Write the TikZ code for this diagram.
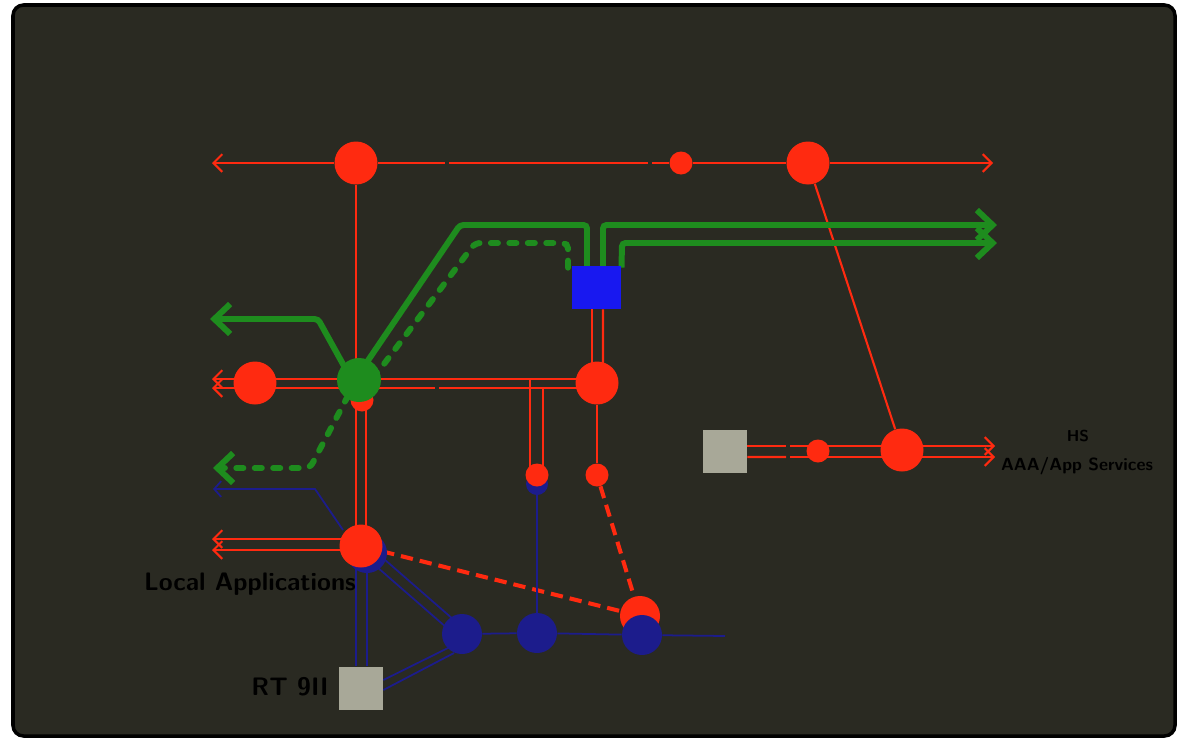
\documentclass[tikz,border=0pt]{standalone}
\usetikzlibrary{arrows.meta,calc}
\definecolor{bgc}{HTML}{2A2A22}
\definecolor{myred}{HTML}{FF2A10}
\definecolor{mygreen}{HTML}{1E8C1E}
\definecolor{myblue}{HTML}{1818F0}
\definecolor{navy}{HTML}{1C1C8C}
\definecolor{sqc}{HTML}{A8A898}
\pgfdeclarelayer{back}
\pgfdeclarelayer{lines}
\pgfsetlayers{back,lines,main}
\tikzset{
  bigred/.style={circle,fill=myred,inner sep=0pt,minimum size=0.86cm},
  smallred/.style={circle,fill=myred,inner sep=0pt,minimum size=0.46cm},
  greennode/.style={circle,fill=mygreen,inner sep=0pt,minimum size=0.88cm},
  bluecirc/.style={circle,fill=navy,inner sep=0pt,minimum size=0.8cm},
  smallblue/.style={circle,fill=navy,inner sep=0pt,minimum size=0.44cm},
  bluesq/.style={rectangle,fill=myblue,inner sep=0pt,minimum width=0.98cm,minimum height=0.86cm},
  graysq/.style={rectangle,fill=sqc,inner sep=0pt,minimum width=0.88cm,minimum height=0.86cm},
  redline/.style={draw=myred,line width=1.2pt},
  redtip/.style={-{Straight Barb[length=5pt,width=10pt,line width=1.2pt]}},
  reddash/.style={draw=myred,line width=2.3pt,dash pattern=on 7pt off 4pt},
  gline/.style={draw=mygreen,line width=3.4pt,rounded corners=2pt},
  gtip/.style={-{Straight Barb[length=9pt,width=17pt,line width=3.4pt]}},
  gdash/.style={draw=mygreen,line width=3.4pt,line cap=round,dash pattern=on 4pt off 6.5pt,rounded corners=3pt},
  blueline/.style={draw=navy,line width=1pt},
  bluetip/.style={-{Straight Barb[length=4pt,width=9pt,line width=1pt]}},
  lbl/.style={text=black,font=\bfseries\sffamily,inner sep=0pt}
}
\begin{document}
\begin{tikzpicture}[x=0.02cm,y=-0.02cm]
\useasboundingbox (0,0) rectangle (1180,741);
\begin{pgfonlayer}{back}
\fill[white] (0,0) rectangle (1180,741);
\draw[line width=2pt,fill=bgc,rounded corners=6pt] (13,5) rectangle (1175,736);
\end{pgfonlayer}

% ---- coordinates
\coordinate (tL) at (212,163);
\coordinate (tR) at (993,163);
\coordinate (gA1) at (445,163); \coordinate (gA2) at (449,163);
\coordinate (gB1) at (648,163); \coordinate (gB2) at (652,163);
\coordinate (mL1) at (212,379); \coordinate (mL2) at (212,388);
\coordinate (gC1) at (435,388); \coordinate (gC2) at (439,388);
\coordinate (bL1) at (212,539); \coordinate (bL2) at (212,550);
\coordinate (blL) at (213,489); \coordinate (blK) at (315,489);
\coordinate (blE) at (725,636);
\coordinate (rR1) at (995,446); \coordinate (rR2) at (995,457);
\coordinate (gD1) at (786,446); \coordinate (gD2) at (790,446);
\coordinate (gD3) at (786,457); \coordinate (gD4) at (790,457);
\coordinate (grA) at (210,319); \coordinate (grB) at (318,319);
\coordinate (grC) at (460,225); \coordinate (grD) at (587,225);
\coordinate (grE) at (603,225); \coordinate (grR1) at (997,225);
\coordinate (grF) at (622,243); \coordinate (grR2) at (997,243);
\coordinate (gdL) at (213,468); \coordinate (gdK) at (310,468);
\coordinate (gdU) at (475,243); \coordinate (gdV) at (568,243);

% ---- nodes
\node[bigred] (r1) at (356,163) {};
\node[smallred] (r2) at (681,163) {};
\node[bigred] (r3) at (808,163) {};
\node[bigred] (r4) at (255,383) {};
\node[smallred] (r5) at (362,400) {};
\node[greennode] (g1) at (359,380) {};
\node[bigred] (r6) at (597,383) {};
\node[bluesq] (b1) at (596.5,287.5) {};
\node[smallblue] (nb7) at (537,484) {};
\node[smallred] (r7) at (537,475) {};
\node[smallred] (r8) at (597,475) {};
\node[bluecirc] (nb9) at (367,553) {};
\node[bigred] (r9) at (361,546) {};
\node[bluecirc] (n1) at (462,634) {};
\node[bluecirc] (n2) at (537,633) {};
\node[bigred,minimum size=0.8cm] (r10) at (640,616) {};
\node[bluecirc] (n3) at (642,635) {};
\node[graysq] (sq1) at (361,688) {};
\node[graysq] (sq2) at (725,451.5) {};
\node[smallred] (r11) at (818,451) {};
\node[bigred] (r12) at (902,450) {};

% ---- labels
\node[lbl,font=\bfseries\sffamily\Large] (t1) at (250,584) {Local Applications};
\node[lbl,font=\bfseries\sffamily\Large] (t2) at (290,687) {RT 9II};
\node[lbl,font=\bfseries\sffamily\small] (t3) at (1078,436) {HS};
\node[lbl,font=\bfseries\sffamily\normalsize] (t4) at (1077,466) {AAA/App Services};

\begin{pgfonlayer}{lines}
% top red line
\draw[redline,redtip] (r1) -- (tL);
\draw[redline] (r1) -- (gA1);
\draw[redline] (gA2) -- (gB1);
\draw[redline] (gB2) -- (r2);
\draw[redline] (r2) -- (r3);
\draw[redline,redtip] (r3) -- (tR);
\draw[redline] (r1) -- ($(g1)+(-3,0)$);
\draw[redline] (r3) -- (r12);

% middle double red
\draw[redline,redtip] ($(r4)+(0,-4)$) -- (mL1);
\draw[redline,redtip] ($(r4)+(0,5)$) -- (mL2);
\draw[redline] ($(r4)+(0,-4)$) -- ($(g1)+(0,-1)$);
\draw[redline] ($(r4)+(0,5)$) -- ($(g1)+(0,8)$);
\draw[redline] ($(g1)+(0,-1)$) -- ($(r6)+(0,-4)$);
\draw[redline] ($(g1)+(0,8)$) -- (gC1);
\draw[redline] (gC2) -- ($(r6)+(0,5)$);
\draw[redline] (530,379) -- ($(r7)+(-7,0)$);
\draw[redline] (543,388) -- ($(r7)+(6,0)$);
\draw[redline] ($(r6)+(-5,0)$) -- ($(b1.south)+(-4.5,0)$);
\draw[redline] ($(r6)+(6,0)$) -- ($(b1.south)+(6.5,0)$);
\draw[redline] (r6) -- (r8);

% vertical doubles under green node
\draw[redline] ($(r5)+(-6,0)$) -- ($(r9)+(-5,0)$);
\draw[redline] ($(r5)+(4,0)$) -- ($(r9)+(5,0)$);

% lower-left double red
\draw[redline,redtip] ($(r9)+(0,-7)$) -- (bL1);
\draw[redline,redtip] ($(r9)+(0,4)$) -- (bL2);

% dashed red
\draw[reddash] (r9) -- (r10);
\draw[reddash] (r8) -- (r10);

% right double red
\draw[redline] ($(sq2.east)+(0,-5.5)$) -- (gD1);
\draw[redline] ($(sq2.east)+(0,5.5)$) -- (gD3);
\draw[redline] (gD2) -- ($(r12)+(0,-4)$);
\draw[redline] (gD4) -- ($(r12)+(0,7)$);
\draw[redline,redtip] ($(r12)+(0,-4)$) -- (rR1);
\draw[redline,redtip] ($(r12)+(0,7)$) -- (rR2);

% blue lines
\draw[blueline,bluetip] ($(r9)+(-18,-16)$) -- (blK) -- (blL);
\draw[blueline] ($(r9)+(-5,0)$) -- ($(sq1.north)+(-5,0)$);
\draw[blueline] ($(r9)+(6,0)$) -- ($(sq1.north)+(6,0)$);
\draw[blueline] ($(r9)+(3.5,-4)$) -- ($(n1)+(3.5,-4)$);
\draw[blueline] ($(r9)+(-3.5,4)$) -- ($(n1)+(-3.5,4)$);
\draw[blueline] ($(sq1.east)+(0,-8)$) -- ($(n1)+(-12,13)$);
\draw[blueline] ($(sq1.east)+(0,2)$) -- ($(n1)+(-8,19)$);
\draw[blueline] (n1) -- (n2) -- (n3) -- (blE);
\draw[blueline] (nb7) -- (n2);

% green lines
\draw[gline,gtip] ($(g1)+(-15,-14)$) -- (grB) -- (grA);
\draw[gline] ($(g1)+(8,-18)$) -- (grC) -- (grD) -- ($(b1.north)+(-9.5,2)$);
\draw[gline,gtip] ($(b1.north)+(6.5,2)$) -- (grE) -- (grR1);
\draw[gline,gtip] ($(b1.north)+(25,2)$) -- (grF) -- (grR2);
\draw[gdash,gtip] ($(b1.north)+(-28.5,2)$) -- (gdV) -- (gdU) -- (378,372) -- (350,392) -- (gdK) -- (gdL);
\end{pgfonlayer}
\end{tikzpicture}
\end{document}
